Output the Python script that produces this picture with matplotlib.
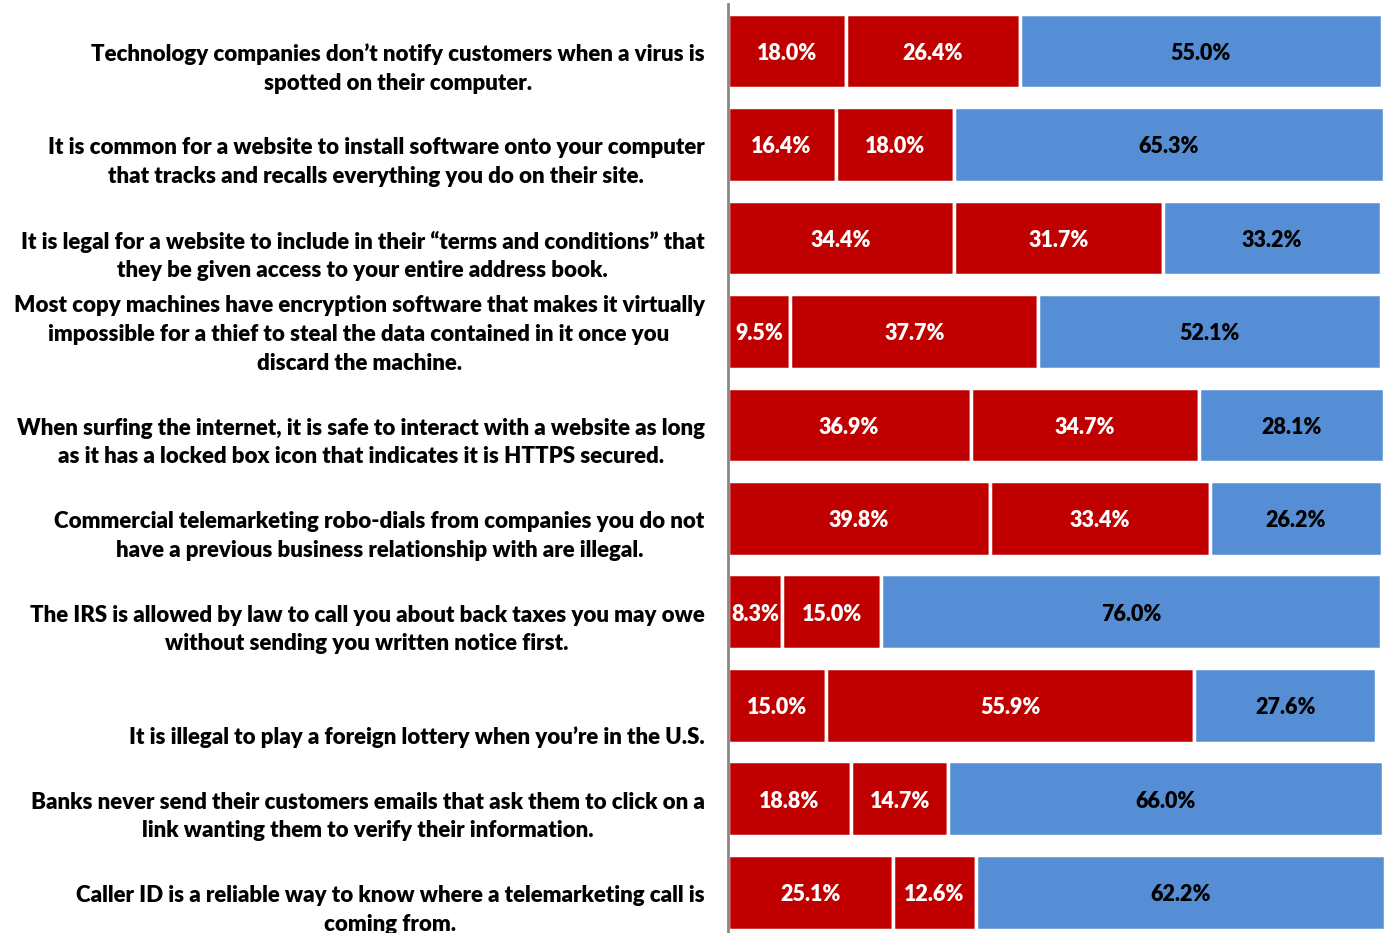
import matplotlib.pyplot as plt
import numpy as np

plt.rcParams['font.family'] = ['Lato', 'DejaVu Sans']
plt.rcParams['font.weight'] = 'bold'

# survey statements, top to bottom
questions = [
    "Technology companies don\u2019t notify customers when a virus is\nspotted on their computer.",
    "It is common for a website to install software onto your computer\nthat tracks and recalls everything you do on their site.",
    "It is legal for a website to include in their \u201cterms and conditions\u201d that\nthey be given access to your entire address book.",
    "Most copy machines have encryption software that makes it virtually\nimpossible for a thief to steal the data contained in it once you\ndiscard the machine.",
    "When surfing the internet, it is safe to interact with a website as long\nas it has a locked box icon that indicates it is HTTPS secured.",
    "Commercial telemarketing robo-dials from companies you do not\nhave a previous business relationship with are illegal.",
    "The IRS is allowed by law to call you about back taxes you may owe\nwithout sending you written notice first.",
    "It is illegal to play a foreign lottery when you\u2019re in the U.S.",
    "Banks never send their customers emails that ask them to click on a\nlink wanting them to verify their information.",
    "Caller ID is a reliable way to know where a telemarketing call is\ncoming from.",
]

first = [18.0, 16.4, 34.4, 9.5, 36.9, 39.8, 8.3, 15.0, 18.8, 25.1]
second = [26.4, 18.0, 31.7, 37.7, 34.7, 33.4, 15.0, 55.9, 14.7, 12.6]
third = [55.0, 65.3, 33.2, 52.1, 28.1, 26.2, 76.0, 27.6, 66.0, 62.2]

red = '#C00000'
blue = '#558ED5'

fig = plt.figure(figsize=(13.84, 9.33), dpi=100)
ax = fig.add_axes([0.5257, -0.0064, 0.4743, 1.0018])

y = np.arange(len(questions))
h = 0.8
segs = [(first, red, 'white'), (second, red, 'white'), (third, blue, 'black')]
left = np.zeros(len(questions))
for vals, col, tcol in segs:
    vals = np.array(vals)
    ax.barh(y, vals, left=left, height=h, color=col, edgecolor='white', linewidth=2.5)
    for yi, l, v in zip(y, left, vals):
        ax.text(l + v / 2, yi + 0.025, '%.1f%%' % v, ha='center', va='center',
                color=tcol, fontsize=15.5, fontweight='heavy')
    left = left + vals

ax.set_xlim(0, 99.7)
ax.set_ylim(len(questions) - 0.5, -0.5)
ax.set_xticks([])
ax.set_yticks([])
for s in ['top', 'right', 'bottom']:
    ax.spines[s].set_visible(False)
ax.spines['left'].set_color('#888888')
ax.spines['left'].set_linewidth(2)

# statements sit at the bottom of a three-line block centred on each bar
for yi, q in zip(y, questions):
    pad = '\n' * (2 - q.count('\n'))
    ax.text(-0.035, yi + 0.035, pad + q, transform=ax.get_yaxis_transform(),
            ha='right', va='center', multialignment='center',
            fontsize=16.0, fontweight='heavy', linespacing=1.46)

fig.savefig('out.png', dpi=100)
